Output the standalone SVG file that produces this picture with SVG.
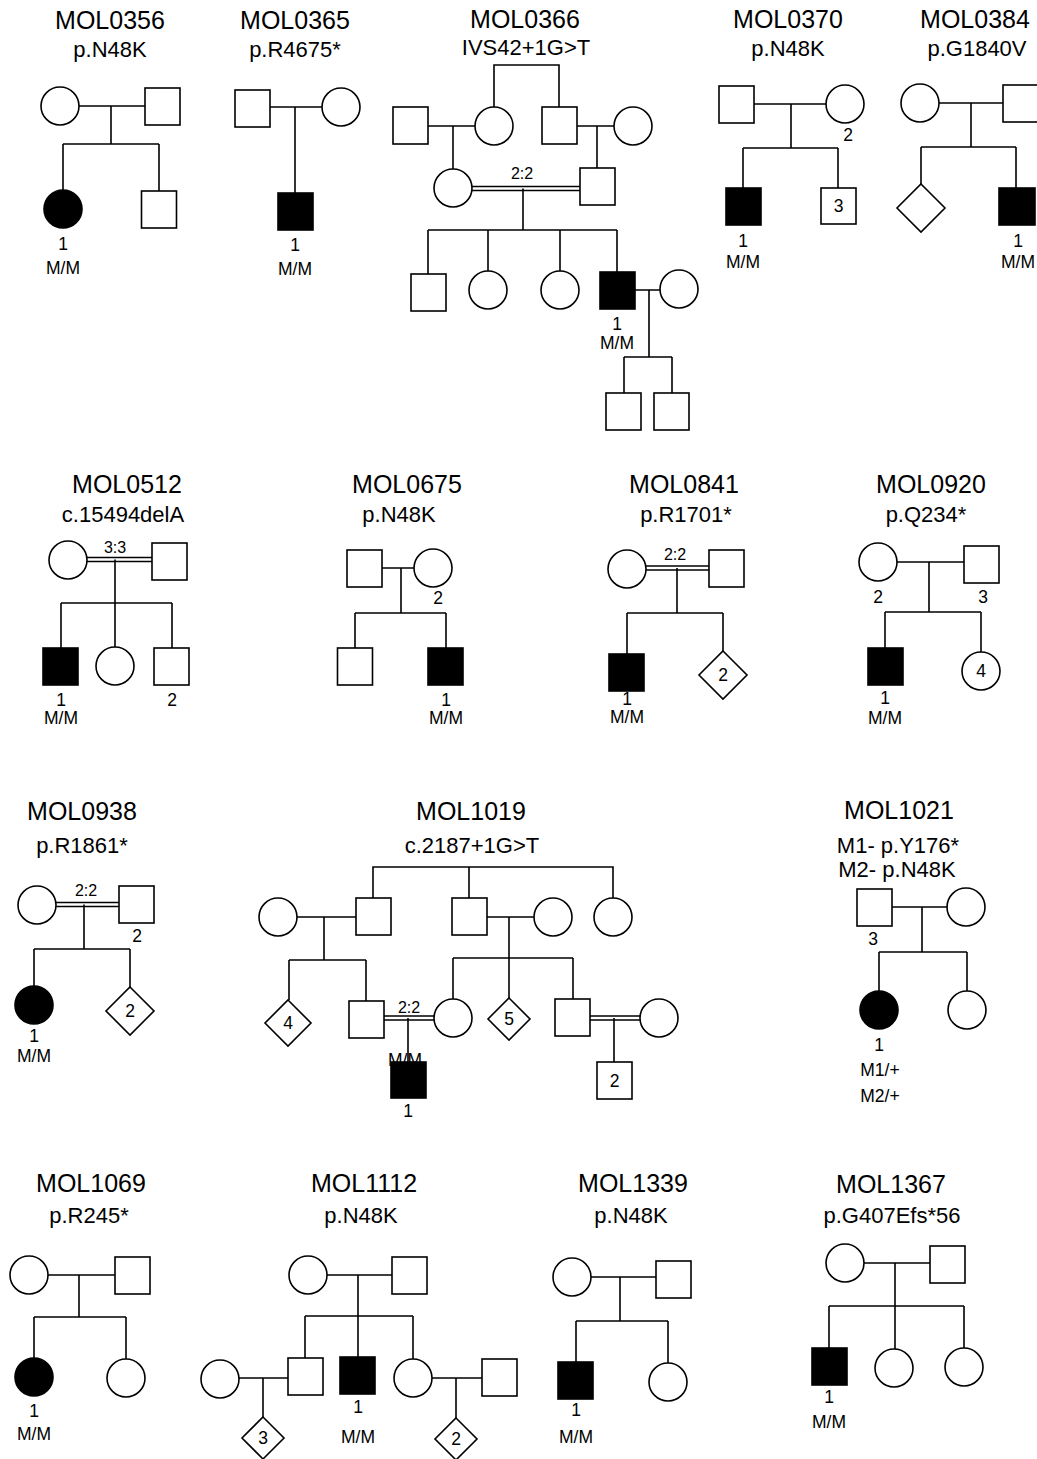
<svg xmlns="http://www.w3.org/2000/svg" width="1037" height="1459" viewBox="0 0 1037 1459">
<style>
.s{fill:#fff;stroke:#000;stroke-width:1.6}
.f{fill:#000;stroke:#000;stroke-width:1.6}
#connectors path{fill:none;stroke:#000;stroke-width:1.6}
text{font-family:"Liberation Sans",Arial,Helvetica,sans-serif;text-anchor:middle;fill:#000}
.t{font-size:25px}
.st{font-size:22px}
.l{font-size:17.5px}
.k{font-size:16px}
</style>
<rect width="1037" height="1459" fill="#fff"/>
<g id="connectors">
<!-- MOL0356 -->
<path d="M79 106H145M111 106V144M63 144H159M63 144V190M159 144V191"/>
<!-- MOL0365 -->
<path d="M270 107H322M295 107V193"/>
<!-- MOL0366 -->
<path d="M494 107V65H559V107M428 126H475M453 126V169M577 126H614M597 126V168"/>
<path d="M472 186.5H580M472 190.5H580M523 188.5V230M428 230H617M428 230V274M488 230V271M560 230V271M617 230V272"/>
<path d="M635 290H660M649 290V357M624 357H672M624 357V393M672 357V393"/>
<!-- MOL0370 -->
<path d="M754 104H826M791 104V148M743 148H838M743 148V188M838 148V188"/>
<!-- MOL0384 -->
<path d="M939 103H1003M971 103V147M921 147H1016M921 147V184M1016 147V188"/>
<!-- MOL0512 -->
<path d="M87 557.5H152M87 561.5H152M115 559.5V603M61 603H172M61 603V648M115 603V647M172 603V648"/>
<!-- MOL0675 -->
<path d="M382 568H414M401 568V613M355 613H446M355 613V648M446 613V648"/>
<!-- MOL0841 -->
<path d="M646 566H709M646 570H709M677 568V613M627 613H723M627 613V654M723 613V651"/>
<!-- MOL0920 -->
<path d="M897 562H964M929 562V612M885 612H981M885 612V648M981 612V652"/>
<!-- MOL0938 -->
<path d="M56 902.5H119M56 906.5H119M84 904.5V949M34 949H130M34 949V986M130 949V987"/>
<!-- MOL1019 -->
<path d="M373 898V867H613V898M469 867V898M297 917H356M324 917V960M487 917H534M509 917V958"/>
<path d="M289 960H366M289 960V1000M366 960V1001M453 958H573M453 958V999M509 958V998M573 958V999"/>
<path d="M384 1016H434M384 1020H434M408 1018V1062M590 1016H640M590 1020H640M614 1018V1062"/>
<!-- MOL1021 -->
<path d="M892 907H947M922 907V952M879 952H967M879 952V991M967 952V991"/>
<!-- MOL1069 -->
<path d="M48 1275H115M79 1275V1317M34 1317H126M34 1317V1358M126 1317V1359"/>
<!-- MOL1112 -->
<path d="M327 1275H392M358 1275V1316M305 1316H413M305 1316V1358M358 1316V1357M413 1316V1359"/>
<path d="M239 1378H288M263 1378V1417M432 1378H482M456 1378V1418"/>
<!-- MOL1339 -->
<path d="M591 1277H656M620 1277V1321M576 1321H668M576 1321V1362M668 1321V1363"/>
<!-- MOL1367 -->
<path d="M864 1263H930M895 1263V1306M829 1306H964M829 1306V1348M895 1306V1349M964 1306V1348"/>
</g>

<g id="MOL0356">
<text class="t" x="110" y="29">MOL0356</text>
<text class="st" x="110" y="57">p.N48K</text>
<g id="MOL0356-I1"><circle class="s" cx="60" cy="106" r="19"/></g>
<g id="MOL0356-I2"><rect class="s" x="145" y="88" width="35" height="37"/></g>
<g id="MOL0356-II1"><circle class="f" cx="63" cy="209" r="19"/><text class="l" x="63" y="250">1</text><text class="l" x="63" y="274">M/M</text></g>
<g id="MOL0356-II2"><rect class="s" x="141.5" y="191" width="35" height="37"/></g>
</g>

<g id="MOL0365">
<text class="t" x="295" y="29">MOL0365</text>
<text class="st" x="295" y="57">p.R4675*</text>
<g id="MOL0365-I1"><rect class="s" x="235" y="90" width="35" height="37"/></g>
<g id="MOL0365-I2"><circle class="s" cx="341" cy="107" r="19"/></g>
<g id="MOL0365-II1"><rect class="f" x="278" y="193" width="35" height="37"/><text class="l" x="295" y="251">1</text><text class="l" x="295" y="275">M/M</text></g>
</g>

<g id="MOL0366">
<text class="t" x="525" y="28">MOL0366</text>
<text class="st" x="526" y="55">IVS42+1G&gt;T</text>
<g id="MOL0366-I1"><rect class="s" x="393" y="107" width="35" height="37"/></g>
<g id="MOL0366-I2"><circle class="s" cx="494" cy="126" r="19"/></g>
<g id="MOL0366-I3"><rect class="s" x="542" y="107" width="35" height="37"/></g>
<g id="MOL0366-I4"><circle class="s" cx="633" cy="126" r="19"/></g>
<g id="MOL0366-II1"><circle class="s" cx="453" cy="188" r="19"/></g>
<g id="MOL0366-II2"><rect class="s" x="580" y="168" width="35" height="37"/></g>
<text class="k" x="522" y="179">2:2</text>
<g id="MOL0366-III1"><rect class="s" x="411" y="274" width="35" height="37"/></g>
<g id="MOL0366-III2"><circle class="s" cx="488" cy="290" r="19"/></g>
<g id="MOL0366-III3"><circle class="s" cx="560" cy="290" r="19"/></g>
<g id="MOL0366-III4"><rect class="f" x="600" y="272" width="35" height="37"/><text class="l" x="617" y="330">1</text><text class="l" x="617" y="349">M/M</text></g>
<g id="MOL0366-III5"><circle class="s" cx="679" cy="289" r="19"/></g>
<g id="MOL0366-IV1"><rect class="s" x="606" y="393" width="35" height="37"/></g>
<g id="MOL0366-IV2"><rect class="s" x="654" y="393" width="35" height="37"/></g>
</g>

<g id="MOL0370">
<text class="t" x="788" y="28">MOL0370</text>
<text class="st" x="788" y="56">p.N48K</text>
<g id="MOL0370-I1"><rect class="s" x="719" y="86" width="35" height="37"/></g>
<g id="MOL0370-I2"><circle class="s" cx="845" cy="104" r="19"/><text class="l" x="848" y="141">2</text></g>
<g id="MOL0370-II1"><rect class="f" x="726" y="188" width="35" height="37"/><text class="l" x="743" y="247">1</text><text class="l" x="743" y="268">M/M</text></g>
<g id="MOL0370-II2"><rect class="s" x="821" y="188" width="35" height="36"/><text class="l" x="838.5" y="212">3</text></g>
</g>

<g id="MOL0384">
<text class="t" x="975" y="28">MOL0384</text>
<text class="st" x="977" y="56">p.G1840V</text>
<g id="MOL0384-I1"><circle class="s" cx="920" cy="103" r="19"/></g>
<g id="MOL0384-I2"><rect class="s" x="1003" y="85" width="36" height="37"/></g>
<g id="MOL0384-II1"><polygon class="s" points="921,184 945,208 921,232 897,208"/></g>
<g id="MOL0384-II2"><rect class="f" x="999" y="188" width="36" height="37"/><text class="l" x="1018" y="247">1</text><text class="l" x="1018" y="268">M/M</text></g>
</g>

<g id="MOL0512">
<text class="t" x="127" y="493">MOL0512</text>
<text class="st" x="123" y="522">c.15494delA</text>
<g id="MOL0512-I1"><circle class="s" cx="68" cy="560" r="19"/></g>
<g id="MOL0512-I2"><rect class="s" x="152" y="543" width="35" height="37"/></g>
<text class="k" x="115" y="553">3:3</text>
<g id="MOL0512-II1"><rect class="f" x="43" y="648" width="35" height="37"/><text class="l" x="61" y="706">1</text><text class="l" x="61" y="724">M/M</text></g>
<g id="MOL0512-II2"><circle class="s" cx="115" cy="666" r="19"/></g>
<g id="MOL0512-II3"><rect class="s" x="154" y="648" width="35" height="37"/><text class="l" x="172" y="706">2</text></g>
</g>

<g id="MOL0675">
<text class="t" x="407" y="493">MOL0675</text>
<text class="st" x="399" y="522">p.N48K</text>
<g id="MOL0675-I1"><rect class="s" x="347" y="550" width="35" height="37"/></g>
<g id="MOL0675-I2"><circle class="s" cx="433" cy="568" r="19"/><text class="l" x="438" y="604">2</text></g>
<g id="MOL0675-II1"><rect class="s" x="337.5" y="648" width="35" height="37"/></g>
<g id="MOL0675-II2"><rect class="f" x="428" y="648" width="35" height="37"/><text class="l" x="446" y="706">1</text><text class="l" x="446" y="724">M/M</text></g>
</g>

<g id="MOL0841">
<text class="t" x="684" y="493">MOL0841</text>
<text class="st" x="686" y="522">p.R1701*</text>
<g id="MOL0841-I1"><circle class="s" cx="627" cy="569" r="19"/></g>
<g id="MOL0841-I2"><rect class="s" x="709" y="550" width="35" height="37"/></g>
<text class="k" x="675" y="560">2:2</text>
<g id="MOL0841-II1"><rect class="f" x="609" y="654" width="35" height="37"/><text class="l" x="627" y="705">1</text><text class="l" x="627" y="723">M/M</text></g>
<g id="MOL0841-II2"><polygon class="s" points="723,651 747,675 723,699 699,675"/><text class="l" x="723" y="681">2</text></g>
</g>

<g id="MOL0920">
<text class="t" x="931" y="493">MOL0920</text>
<text class="st" x="926" y="522">p.Q234*</text>
<g id="MOL0920-I1"><circle class="s" cx="878" cy="562" r="19"/><text class="l" x="878" y="603">2</text></g>
<g id="MOL0920-I2"><rect class="s" x="964" y="546" width="35" height="37"/><text class="l" x="983" y="603">3</text></g>
<g id="MOL0920-II1"><rect class="f" x="868" y="648" width="35" height="37"/><text class="l" x="885" y="704">1</text><text class="l" x="885" y="724">M/M</text></g>
<g id="MOL0920-II2"><circle class="s" cx="981" cy="671" r="19"/><text class="l" x="981" y="677">4</text></g>
</g>

<g id="MOL0938">
<text class="t" x="82" y="820">MOL0938</text>
<text class="st" x="82" y="853">p.R1861*</text>
<g id="MOL0938-I1"><circle class="s" cx="37" cy="905" r="19"/></g>
<g id="MOL0938-I2"><rect class="s" x="119" y="886" width="35" height="37"/><text class="l" x="137" y="942">2</text></g>
<text class="k" x="86" y="896">2:2</text>
<g id="MOL0938-II1"><circle class="f" cx="34" cy="1005" r="19"/><text class="l" x="34" y="1042">1</text><text class="l" x="34" y="1062">M/M</text></g>
<g id="MOL0938-II2"><polygon class="s" points="130,987 154,1011 130,1035 106,1011"/><text class="l" x="130" y="1017">2</text></g>
</g>

<g id="MOL1019">
<text class="t" x="471" y="820">MOL1019</text>
<text class="st" x="472" y="853">c.2187+1G&gt;T</text>
<g id="MOL1019-I1"><circle class="s" cx="278" cy="917" r="19"/></g>
<g id="MOL1019-I2"><rect class="s" x="356" y="898" width="35" height="37"/></g>
<g id="MOL1019-I3"><rect class="s" x="452" y="898" width="35" height="37"/></g>
<g id="MOL1019-I4"><circle class="s" cx="553" cy="917" r="19"/></g>
<g id="MOL1019-I5"><circle class="s" cx="613" cy="917" r="19"/></g>
<g id="MOL1019-II1"><polygon class="s" points="288,1000 311,1023 288,1046 265,1023"/><text class="l" x="288" y="1029">4</text></g>
<g id="MOL1019-II2"><rect class="s" x="349" y="1001" width="35" height="37"/></g>
<text class="k" x="409" y="1013">2:2</text>
<g id="MOL1019-II3"><circle class="s" cx="453" cy="1018" r="19"/></g>
<g id="MOL1019-II4"><polygon class="s" points="509,998 530,1019 509,1040 488,1019"/><text class="l" x="509" y="1025">5</text></g>
<g id="MOL1019-II5"><rect class="s" x="555" y="999" width="35" height="37"/></g>
<g id="MOL1019-II6"><circle class="s" cx="659" cy="1018" r="19"/></g>
<g id="MOL1019-III1"><rect class="f" x="391" y="1062" width="35" height="36"/><text class="l" x="405" y="1066">M/M</text><text class="l" x="408" y="1117">1</text></g>
<g id="MOL1019-III2"><rect class="s" x="597" y="1062" width="35" height="37"/><text class="l" x="614.5" y="1087">2</text></g>
</g>

<g id="MOL1021">
<text class="t" x="899" y="819">MOL1021</text>
<text class="st" x="898" y="853">M1- p.Y176*</text>
<text class="st" x="897" y="877">M2- p.N48K</text>
<g id="MOL1021-I1"><rect class="s" x="857" y="889" width="35" height="37"/><text class="l" x="873" y="945">3</text></g>
<g id="MOL1021-I2"><circle class="s" cx="966" cy="907" r="19"/></g>
<g id="MOL1021-II1"><circle class="f" cx="879" cy="1010" r="19"/><text class="l" x="879" y="1051">1</text><text class="l" x="880" y="1076">M1/+</text><text class="l" x="880" y="1102">M2/+</text></g>
<g id="MOL1021-II2"><circle class="s" cx="967" cy="1010" r="19"/></g>
</g>

<g id="MOL1069">
<text class="t" x="91" y="1192">MOL1069</text>
<text class="st" x="89" y="1223">p.R245*</text>
<g id="MOL1069-I1"><circle class="s" cx="29" cy="1275" r="19"/></g>
<g id="MOL1069-I2"><rect class="s" x="115" y="1257" width="35" height="37"/></g>
<g id="MOL1069-II1"><circle class="f" cx="34" cy="1377" r="19"/><text class="l" x="34" y="1417">1</text><text class="l" x="34" y="1440">M/M</text></g>
<g id="MOL1069-II2"><circle class="s" cx="126" cy="1378" r="19"/></g>
</g>

<g id="MOL1112">
<text class="t" x="364" y="1192">MOL1112</text>
<text class="st" x="361" y="1223">p.N48K</text>
<g id="MOL1112-I1"><circle class="s" cx="308" cy="1275" r="19"/></g>
<g id="MOL1112-I2"><rect class="s" x="392" y="1257" width="35" height="37"/></g>
<g id="MOL1112-II1"><circle class="s" cx="220" cy="1379" r="19"/></g>
<g id="MOL1112-II2"><rect class="s" x="288" y="1358" width="35" height="37"/></g>
<g id="MOL1112-II3"><rect class="f" x="340" y="1357" width="35" height="37"/><text class="l" x="358" y="1413">1</text><text class="l" x="358" y="1443">M/M</text></g>
<g id="MOL1112-II4"><circle class="s" cx="413" cy="1378" r="19"/></g>
<g id="MOL1112-II5"><rect class="s" x="482" y="1359" width="35" height="37"/></g>
<g id="MOL1112-III1"><polygon class="s" points="263,1417 284,1438 263,1459 242,1438"/><text class="l" x="263" y="1444">3</text></g>
<g id="MOL1112-III2"><polygon class="s" points="456,1418 477,1439 456,1460 435,1439"/><text class="l" x="456" y="1445">2</text></g>
</g>

<g id="MOL1339">
<text class="t" x="633" y="1192">MOL1339</text>
<text class="st" x="631" y="1223">p.N48K</text>
<g id="MOL1339-I1"><circle class="s" cx="572" cy="1277" r="19"/></g>
<g id="MOL1339-I2"><rect class="s" x="656" y="1261" width="35" height="37"/></g>
<g id="MOL1339-II1"><rect class="f" x="558" y="1362" width="35" height="37"/><text class="l" x="576" y="1416">1</text><text class="l" x="576" y="1443">M/M</text></g>
<g id="MOL1339-II2"><circle class="s" cx="668" cy="1382" r="19"/></g>
</g>

<g id="MOL1367">
<text class="t" x="891" y="1193">MOL1367</text>
<text class="st" x="892" y="1223">p.G407Efs*56</text>
<g id="MOL1367-I1"><circle class="s" cx="845" cy="1263" r="19"/></g>
<g id="MOL1367-I2"><rect class="s" x="930" y="1246" width="35" height="37"/></g>
<g id="MOL1367-II1"><rect class="f" x="812" y="1348" width="35" height="37"/><text class="l" x="829" y="1403">1</text><text class="l" x="829" y="1428">M/M</text></g>
<g id="MOL1367-II2"><circle class="s" cx="894" cy="1368" r="19"/></g>
<g id="MOL1367-II3"><circle class="s" cx="964" cy="1367" r="19"/></g>
</g>
</svg>
